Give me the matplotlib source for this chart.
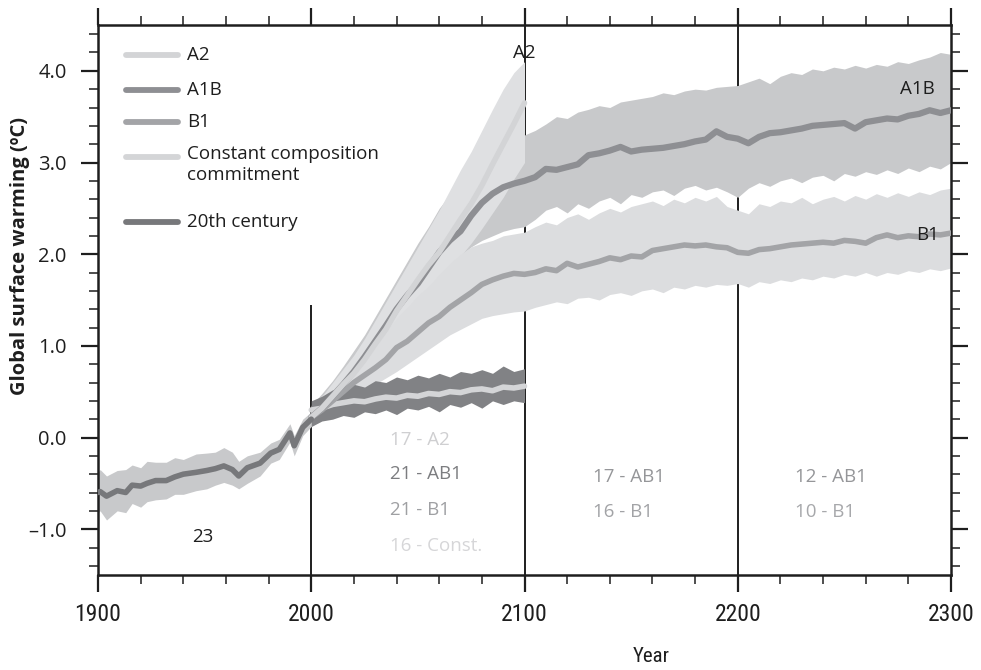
import numpy as np
import matplotlib
matplotlib.use("Agg")
import matplotlib.pyplot as plt
from matplotlib.ticker import MultipleLocator, FixedLocator
from matplotlib import font_manager
from matplotlib.font_manager import FontProperties

# ---------------- data ----------------
# 20th century
years_20c = [1900, 1901, 1904, 1909, 1913, 1916, 1920, 1923, 1927, 1932, 1936, 1940, 1946, 1951, 1955,
             1959, 1963, 1966, 1970, 1976, 1981, 1985, 1990, 1992, 1996, 2000]
mean_20c = [-0.60, -0.59, -0.64, -0.58, -0.60, -0.52, -0.53, -0.50, -0.47, -0.47, -0.43, -0.40, -0.38, -0.36, -0.34,
            -0.31, -0.35, -0.42, -0.33, -0.28, -0.17, -0.13, 0.05, -0.09, 0.11, 0.20]
upper_20c = [-0.38, -0.35, -0.42, -0.36, -0.35, -0.30, -0.33, -0.26, -0.27, -0.27, -0.22, -0.24, -0.18, -0.17, -0.16,
             -0.11, -0.16, -0.26, -0.20, -0.16, -0.06, -0.02, 0.15, 0.02, 0.20, 0.28]
lower_20c = [-0.82, -0.80, -0.90, -0.80, -0.82, -0.72, -0.76, -0.70, -0.68, -0.67, -0.62, -0.62, -0.58, -0.56, -0.52,
             -0.49, -0.52, -0.56, -0.50, -0.42, -0.28, -0.24, -0.05, -0.20, 0.02, 0.12]

# scenarios 2000-2300 (5-year steps)
years_fut = list(range(2000, 2301, 5))
mean_a1b = [0.22, 0.32, 0.45, 0.58, 0.72, 0.88, 1.05, 1.22, 1.40, 1.55, 1.68, 1.85, 2.02, 2.15, 2.25, 2.42, 2.56, 2.66, 2.73, 2.77, 2.80,
            2.84, 2.93, 2.92, 2.95, 2.98, 3.08, 3.10, 3.13, 3.17, 3.12, 3.14, 3.15, 3.16, 3.18, 3.20, 3.23, 3.25, 3.34, 3.28, 3.26,
            3.21, 3.28, 3.32, 3.33, 3.35, 3.37, 3.40, 3.41, 3.42, 3.43, 3.37, 3.44, 3.46, 3.48, 3.47, 3.51, 3.53, 3.57, 3.54, 3.57]
upper_a1b = [0.35, 0.48, 0.62, 0.78, 0.95, 1.12, 1.32, 1.52, 1.72, 1.92, 2.12, 2.30, 2.50, 2.65, 2.82, 2.95, 3.05, 3.15, 3.22, 3.28, 3.30,
             3.35, 3.42, 3.50, 3.48, 3.55, 3.58, 3.62, 3.60, 3.66, 3.68, 3.70, 3.72, 3.76, 3.74, 3.78, 3.80, 3.79, 3.82, 3.83, 3.84,
             3.88, 3.92, 3.86, 3.94, 3.98, 3.96, 4.02, 4.00, 4.04, 4.02, 4.06, 4.03, 4.07, 4.05, 4.10, 4.08, 4.12, 4.15, 4.20, 4.18]
lower_a1b = [0.12, 0.20, 0.30, 0.42, 0.55, 0.68, 0.82, 0.98, 1.12, 1.30, 1.45, 1.60, 1.75, 1.88, 1.98, 2.08, 2.15, 2.20, 2.25, 2.28, 2.30,
             2.38, 2.48, 2.52, 2.45, 2.55, 2.50, 2.58, 2.62, 2.55, 2.65, 2.62, 2.68, 2.70, 2.64, 2.72, 2.75, 2.70, 2.73, 2.68, 2.62,
             2.72, 2.78, 2.74, 2.80, 2.83, 2.78, 2.84, 2.86, 2.80, 2.88, 2.85, 2.90, 2.87, 2.92, 2.88, 2.94, 2.90, 2.96, 2.93, 3.00]

mean_b1 = [0.22, 0.30, 0.40, 0.50, 0.60, 0.68, 0.76, 0.85, 0.98, 1.05, 1.15, 1.25, 1.32, 1.42, 1.50, 1.58, 1.67, 1.72, 1.76, 1.79, 1.78,
           1.80, 1.84, 1.82, 1.90, 1.86, 1.89, 1.92, 1.96, 1.94, 1.98, 1.97, 2.04, 2.06, 2.08, 2.10, 2.09, 2.10, 2.08, 2.07, 2.02,
           2.01, 2.05, 2.06, 2.08, 2.10, 2.11, 2.12, 2.13, 2.12, 2.15, 2.14, 2.12, 2.18, 2.21, 2.18, 2.20, 2.19, 2.22, 2.21, 2.23]
upper_b1 = [0.32, 0.42, 0.52, 0.65, 0.78, 0.90, 1.02, 1.15, 1.30, 1.42, 1.55, 1.65, 1.78, 1.90, 2.00, 2.08, 2.12, 2.15, 2.20, 2.22, 2.24,
            2.30, 2.35, 2.32, 2.40, 2.44, 2.38, 2.45, 2.50, 2.46, 2.52, 2.55, 2.58, 2.53, 2.60, 2.56, 2.62, 2.58, 2.63, 2.52, 2.48,
            2.44, 2.55, 2.52, 2.58, 2.56, 2.62, 2.55, 2.60, 2.63, 2.58, 2.64, 2.60, 2.66, 2.62, 2.67, 2.63, 2.68, 2.65, 2.70, 2.72]
lower_b1 = [0.12, 0.20, 0.26, 0.34, 0.42, 0.50, 0.58, 0.65, 0.72, 0.80, 0.88, 0.96, 1.04, 1.12, 1.18, 1.24, 1.30, 1.33, 1.35, 1.37, 1.38,
            1.42, 1.45, 1.48, 1.46, 1.52, 1.53, 1.50, 1.56, 1.58, 1.55, 1.60, 1.62, 1.58, 1.64, 1.62, 1.66, 1.64, 1.67, 1.66, 1.68,
            1.64, 1.70, 1.68, 1.72, 1.70, 1.74, 1.72, 1.76, 1.74, 1.78, 1.76, 1.80, 1.76, 1.80, 1.78, 1.82, 1.80, 1.84, 1.82, 1.85]

# A2 and constant composition, 2000-2100
years_21c = list(range(2000, 2101, 5))
mean_a2 = [0.22, 0.32, 0.45, 0.58, 0.70, 0.85, 1.02, 1.18, 1.38, 1.55, 1.72, 1.88, 2.02, 2.20, 2.38, 2.55, 2.75, 2.98, 3.20, 3.42, 3.65]
upper_a2 = [0.35, 0.45, 0.60, 0.75, 0.90, 1.08, 1.28, 1.48, 1.68, 1.88, 2.08, 2.28, 2.48, 2.70, 2.92, 3.12, 3.35, 3.58, 3.80, 3.98, 4.10]
lower_a2 = [0.12, 0.20, 0.30, 0.42, 0.52, 0.65, 0.78, 0.92, 1.06, 1.22, 1.38, 1.52, 1.66, 1.82, 1.98, 2.12, 2.28, 2.45, 2.62, 2.82, 3.00]

mean_const = [0.30, 0.32, 0.36, 0.38, 0.40, 0.39, 0.42, 0.44, 0.43, 0.46, 0.45, 0.48, 0.47, 0.50, 0.49, 0.52, 0.53, 0.51, 0.55, 0.54, 0.56]
upper_const = [0.40, 0.45, 0.52, 0.50, 0.58, 0.55, 0.62, 0.60, 0.66, 0.63, 0.68, 0.65, 0.70, 0.66, 0.72, 0.70, 0.74, 0.70, 0.78, 0.72, 0.75]
lower_const = [0.12, 0.18, 0.20, 0.24, 0.22, 0.28, 0.26, 0.30, 0.25, 0.32, 0.30, 0.34, 0.28, 0.36, 0.33, 0.38, 0.32, 0.40, 0.36, 0.40, 0.38]

x_ticks = [1900, 2000, 2100, 2200, 2300]
y_ticks = [-1.0, 0.0, 1.0, 2.0, 3.0, 4.0]
y_ticklabels = ["\u20131.0", "0.0", "1.0", "2.0", "3.0", "4.0"]
period_bounds = [2000, 2100, 2200]

legend_labels = ["A2", "A1B", "B1", "Constant composition\ncommitment", "20th century"]

model_counts = [
    (2037, "17 - A2", "#cfcfd1", -0.03),
    (2037, "21 - AB1", "#7c7d80", -0.40),
    (2037, "21 - B1", "#9fa0a3", -0.79),
    (2037, "16 - Const.", "#d6d6d8", -1.18),
    (2132, "17 - AB1", "#959699", -0.43),
    (2132, "16 - B1", "#a2a3a6", -0.81),
    (2227, "12 - AB1", "#959699", -0.43),
    (2227, "10 - B1", "#a7a8ab", -0.81),
]

# ---------------- style ----------------
names = {f.name for f in font_manager.fontManager.ttflist}
base_font = "Open Sans" if "Open Sans" in names else "DejaVu Sans"

narrow_prop = None
for cand in ["Liberation Sans Narrow", "Roboto Condensed", "Open Sans Condensed", "Noto Sans Condensed",
             "DejaVu Sans Condensed"]:
    if cand in names:
        narrow_prop = FontProperties(family=cand)
        break
if narrow_prop is None:
    for f in font_manager.fontManager.ttflist:
        if f.stretch in ("condensed", "semi-condensed", 300, 400) and f.style == "normal" \
                and f.weight in ("normal", "regular", 400, "book"):
            narrow_prop = FontProperties(fname=f.fname)
            break
narrow_ok = narrow_prop is not None
if not narrow_ok:
    narrow_prop = FontProperties(family=base_font)

plt.rcParams["font.family"] = [base_font, "DejaVu Sans"]

c_a2_line, c_a2_band = "#d3d4d6", "#dfe0e2"
c_a1b_line, c_a1b_band = "#8e8f93", "#c8c9cb"
c_b1_line, c_b1_band = "#a3a4a7", "#dcdddf"
c_const_line, c_const_band = "#d4d5d7", "#818285"
c_20_line, c_20_band = "#77787b", "#c8c9cb"
ink = "#1e1e1e"

fig = plt.figure(figsize=(9.81, 6.70), dpi=100)
ax = fig.add_axes([98 / 981, 1 - 575 / 670, 853 / 981, 550 / 670])
ax.set_xlim(1900, 2300)
ax.set_ylim(-1.5, 4.5)

# period separators (behind data)
ax.vlines(period_bounds[0], -1.5, 1.45, color=ink, lw=1.4, zorder=0.5)
for b in period_bounds[1:]:
    ax.axvline(b, color=ink, lw=1.4, zorder=0.5)

# bands
ax.fill_between(years_fut, lower_a1b, upper_a1b, color=c_a1b_band, lw=0, zorder=1)
ax.fill_between(years_21c, lower_a2, upper_a2, color=c_a2_band, lw=0, zorder=1.2)
ax.fill_between(years_fut, lower_b1, upper_b1, color=c_b1_band, lw=0, zorder=1.4)
ax.fill_between(years_21c, lower_const, upper_const, color=c_const_band, lw=0, zorder=1.6)
ax.fill_between(years_20c, lower_20c, upper_20c, color=c_20_band, lw=0, zorder=1.8)

# lines
lw = 4.0
ax.plot(years_21c, mean_const, color=c_const_line, lw=lw, zorder=3, solid_capstyle="round")
ax.plot(years_fut, mean_b1, color=c_b1_line, lw=lw, zorder=3.2, solid_capstyle="round")
ax.plot(years_fut, mean_a1b, color=c_a1b_line, lw=lw + 0.5, zorder=3.4, solid_capstyle="round")
ax.plot(years_21c, mean_a2, color=c_a2_line, lw=lw, zorder=3.6, solid_capstyle="round")
ax.plot(years_20c, mean_20c, color=c_20_line, lw=lw, zorder=3.8, solid_capstyle="round")

# scenario labels
ax.text(2100, 4.2, "A2", ha="center", va="center", fontsize=13.5, color=ink, zorder=5)
ax.text(2284, 3.80, "A1B", ha="center", va="center", fontsize=13.5, color=ink, zorder=5)
ax.text(2289, 2.21, "B1", ha="center", va="center", fontsize=13.5, color=ink, zorder=5)
ax.text(1949, -1.08, "23", ha="center", va="center", fontsize=13.5, color=ink, zorder=5)

for xpos, txt, col, ypos in model_counts:
    ax.text(xpos, ypos, txt, ha="left", va="center", fontsize=13.5, color=col, zorder=5)

# manual legend (axes coordinates)
leg_colors = [c_a2_line, c_a1b_line, c_b1_line, c_const_line, c_20_line]
leg_rows = [0.9455, 0.8818, 0.8236, 0.76, 0.6418]
for lab, col, yy in zip(legend_labels, leg_colors, leg_rows):
    ax.plot([0.0328, 0.0938], [yy, yy], transform=ax.transAxes, color=col, lw=4.2,
            solid_capstyle="round", zorder=6)
    if "\n" in lab:
        ax.text(0.1043, yy + 0.022, lab, transform=ax.transAxes, ha="left", va="top",
                fontsize=13.5, color=ink, linespacing=1.25, zorder=6)
    else:
        ax.text(0.1043, yy, lab, transform=ax.transAxes, ha="left", va="center",
                fontsize=13.5, color=ink, zorder=6)

# axes, ticks
for sp in ax.spines.values():
    sp.set_linewidth(1.8)
    sp.set_color(ink)
ax.xaxis.set_major_locator(FixedLocator(x_ticks))
ax.xaxis.set_minor_locator(MultipleLocator(20))
ax.yaxis.set_major_locator(FixedLocator(y_ticks))
ax.yaxis.set_minor_locator(MultipleLocator(0.2))
xfs = 17 if narrow_ok else 14.5
ax.set_xticklabels([str(v) for v in x_ticks], fontproperties=narrow_prop, fontsize=xfs)
ax.set_yticklabels(y_ticklabels, fontsize=14.5)
ax.tick_params(which="both", direction="out", top=True, bottom=True, left=True, right=True,
               colors=ink)
ax.tick_params(which="major", length=12.5, width=1.6)
ax.tick_params(which="minor", length=6.5, width=1.1)
ax.tick_params(axis="x", which="major", pad=8)
ax.tick_params(axis="y", which="major", pad=10)

ax.set_ylabel("Global surface warming (ºC)", fontsize=14.5, fontweight="bold", color=ink)
ax.yaxis.set_label_coords(-0.080, 0.58)
ax.set_xlabel("Year", fontproperties=narrow_prop, fontsize=(15 if narrow_ok else 13), color=ink)
ax.xaxis.set_label_coords(0.648, -0.131)

fig.savefig("out.png", dpi=100)
